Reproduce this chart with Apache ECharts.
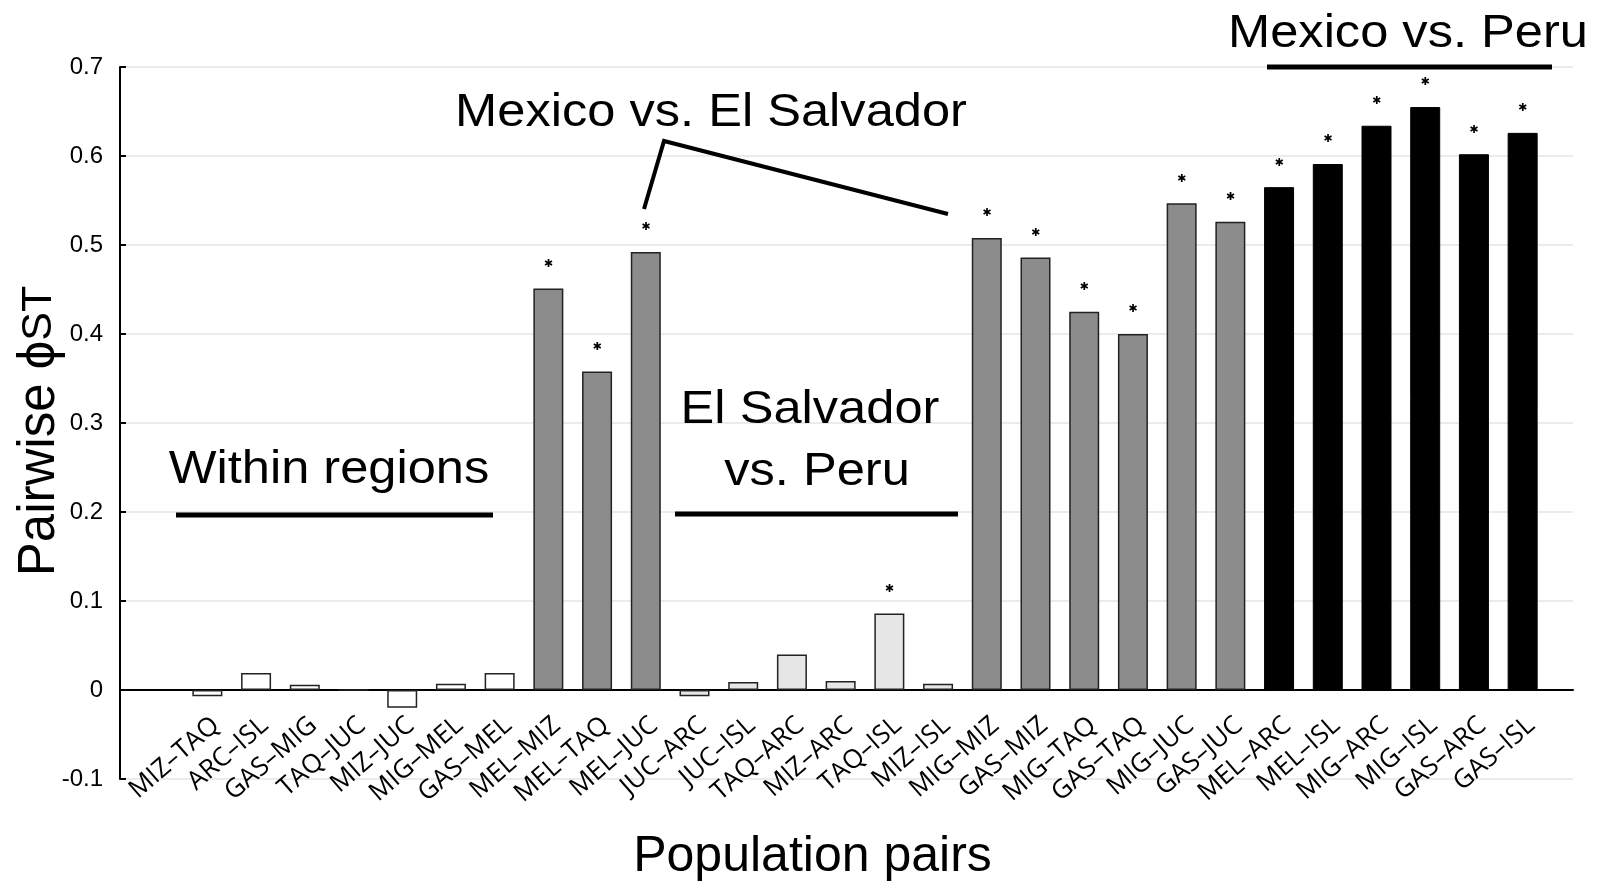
<!DOCTYPE html>
<html>
<head>
<meta charset="utf-8">
<script src="https://cdn.jsdelivr.net/npm/echarts@6/dist/echarts.min.js"></script>
<style>
html,body{margin:0;padding:0;background:#fff;}
#chart{width:1598px;height:882px;}
</style>
</head>
<body>
<div id="chart"></div>
<script>
// ---- data ----
var categories = ['MIZ–TAQ','ARC–ISL','GAS–MIG','TAQ–JUC','MIZ–JUC','MIG–MEL','GAS–MEL',
  'MEL–MIZ','MEL–TAQ','MEL–JUC',
  'JUC–ARC','JUC–ISL','TAQ–ARC','MIZ–ARC','TAQ–ISL','MIZ–ISL',
  'MIG–MIZ','GAS–MIZ','MIG–TAQ','GAS–TAQ','MIG–JUC','GAS–JUC',
  'MEL–ARC','MEL–ISL','MIG–ARC','MIG–ISL','GAS–ARC','GAS–ISL'];
var phiST = [-0.007,0.019,0.006,0.000,-0.020,0.007,0.019,
  0.451,0.358,0.492,
  -0.007,0.009,0.040,0.010,0.086,0.007,
  0.508,0.486,0.425,0.400,0.547,0.526,
  0.565,0.591,0.634,0.655,0.602,0.626];
var significant = [0,0,0,0,0,0,0,
  1,1,1,
  0,0,0,0,1,0,
  1,1,1,1,1,1,
  1,1,1,1,1,1];
var groups = ['within','within','within','within','within','within','within',
  'mexElSal','mexElSal','mexElSal',
  'elSalPeru','elSalPeru','elSalPeru','elSalPeru','elSalPeru','elSalPeru',
  'mexElSal','mexElSal','mexElSal','mexElSal','mexElSal','mexElSal',
  'mexPeru','mexPeru','mexPeru','mexPeru','mexPeru','mexPeru'];
var yTicks = {min: -0.1, max: 0.7, interval: 0.1};

// ---- style ----
var groupStyle = {
  within:    {color:'#ffffff', borderColor:'#222', borderWidth:1.5},
  mexElSal:  {color:'#8c8c8c', borderColor:'#222', borderWidth:1.5},
  elSalPeru: {color:'#e6e6e6', borderColor:'#222', borderWidth:1.5},
  mexPeru:   {color:'#000000', borderColor:'#000', borderWidth:1}
};

var barData = phiST.map(function(v,i){
  return {value:v, itemStyle:groupStyle[groups[i]]};
});

var chart = echarts.init(document.getElementById('chart'));
var FONT = 'Liberation Sans, Arial, sans-serif';

function annText(txt, x, y){
  return {type:'text', x:x, y:y, scaleX:1.1, z:100,
    style:{text:txt, x:0, y:0, textAlign:'center', textVerticalAlign:'middle',
      font:'46px ' + 'Liberation Sans', fill:'#000'}};
}
function annLine(points, w){
  return {type:'polyline', z:100, shape:{points:points},
    style:{stroke:'#000', lineWidth:w, fill:null}};
}

var option = {
  backgroundColor:'#fff',
  animation:false,
  grid:[
    {left:120, right:25, top:67, bottom:103, containLabel:false, outerBoundsMode:'none'},
    {left:183, right:51, top:67, bottom:103, containLabel:false, outerBoundsMode:'none'}
  ],
  xAxis:[
    {gridIndex:0, type:'value', min:0, max:1,
     axisLine:{show:true, onZero:true, lineStyle:{color:'#000', width:2}},
     axisTick:{show:false}, axisLabel:{show:false}, splitLine:{show:false},
     name:'Population pairs', nameLocation:'middle', nameGap:53, nameMoveOverlap:false,
     nameTextStyle:{fontFamily:FONT, fontSize:50, color:'#000', padding:[0,68,0,0]}},
    {gridIndex:1, type:'category', data:categories,
     axisLine:{show:false, onZero:false}, axisTick:{show:false},
     axisLabel:{interval:0, rotate:41, align:'right', verticalAlign:'top', margin:-67,
       fontFamily:'Open Sans', fontSize:26, color:'#000'}}
  ],
  yAxis:[
    {gridIndex:0, type:'value', min:yTicks.min, max:yTicks.max, interval:yTicks.interval,
     axisLine:{show:true, lineStyle:{color:'#000', width:2}},
     axisTick:{show:true, inside:true, length:6, lineStyle:{color:'#000', width:2}},
     axisLabel:{margin:17, fontFamily:FONT, fontSize:24, color:'#000',
       formatter:function(v){ return String(+v.toFixed(1)); }},
     splitLine:{show:true, lineStyle:{color:'#e4e4e4', width:1.5}},
     name:'{a|Pairwise ϕ}{b|ST}', nameLocation:'middle', nameGap:55, nameRotate:90,
     nameMoveOverlap:false,
     nameTextStyle:{padding:[0,16,0,0],
       rich:{a:{fontFamily:FONT, fontSize:51, color:'#000'},
             b:{fontFamily:FONT, fontSize:43, color:'#000'}}}},
    {gridIndex:1, type:'value', min:yTicks.min, max:yTicks.max, interval:yTicks.interval,
     show:false, splitLine:{show:false}}
  ],
  series:[
    {type:'bar', xAxisIndex:1, yAxisIndex:1, data:barData, barWidth:30,
     label:{show:true, position:'top', distance:19,
       fontFamily:'DejaVu Sans', fontSize:11, color:'#000',
       formatter:function(p){ return significant[p.dataIndex] ? '✱' : ''; }}}
  ],
  graphic:[
    annText('Within regions', 329, 470),
    annLine([[176,515],[493,515]], 5),
    annText('El Salvador', 810, 410),
    annText('vs. Peru', 817, 472),
    annLine([[675,514],[958,514]], 5),
    annText('Mexico vs. El Salvador', 711, 113),
    annLine([[644,209],[664,141],[948,214]], 4),
    annText('Mexico vs. Peru', 1408, 34),
    annLine([[1267,67],[1552,67]], 5)
  ]
};
chart.setOption(option);
</script>
</body>
</html>
